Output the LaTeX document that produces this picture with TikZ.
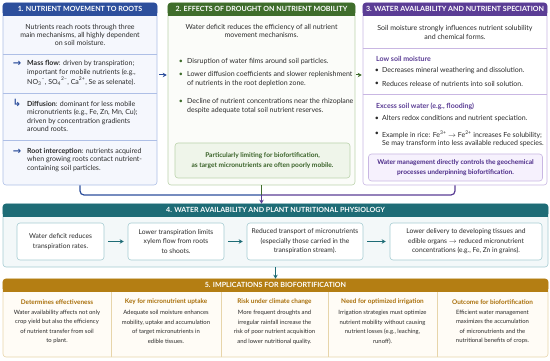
\documentclass[tikz,border=0pt]{standalone}
\usepackage{fontspec}
\setmainfont{Lato}
\newfontfamily\arrowfont{DejaVu Sans}
\usetikzlibrary{positioning,arrows.meta}

\definecolor{ink}{HTML}{2B2B2B}
\definecolor{blueh}{HTML}{2D4F9C}
\definecolor{blueb}{HTML}{AEBFE6}
\definecolor{bluef}{HTML}{F5F7FD}
\definecolor{greenh}{HTML}{3F6D2C}
\definecolor{greenb}{HTML}{BBD3AC}
\definecolor{greenf}{HTML}{FBFCF9}
\definecolor{greenbox}{HTML}{EFF5EA}
\definecolor{purph}{HTML}{5B3D95}
\definecolor{purpb}{HTML}{C9B7E3}
\definecolor{purpbox}{HTML}{F6F1FD}
\definecolor{purpt}{HTML}{4B2B88}
\definecolor{tealh}{HTML}{1E6C76}
\definecolor{tealb}{HTML}{A6CCD2}
\definecolor{tealf}{HTML}{F3F8F9}
\definecolor{goldh}{HTML}{B47E13}
\definecolor{goldb}{HTML}{E7D5AA}
\definecolor{goldf}{HTML}{FFFCF6}
\definecolor{goldt}{HTML}{A86E08}

\tikzset{
  panel/.style={rounded corners=3pt, line width=0.6pt, inner sep=0pt},
  headtext/.style={text=white, font=\fontsize{7.1}{8}\selectfont\bfseries, inner sep=0pt},
  txt/.style={text=ink, font=\fontsize{7}{8.3}\selectfont, inner sep=0pt, align=left},
  ctxt/.style={txt, align=center},
  bullet/.style={text=#1, font=\fontsize{7}{8}\selectfont, inner sep=0pt},
  icon/.style={text=blueh, font=\arrowfont\fontsize{10}{10}\selectfont\bfseries, inner sep=0pt},
  subhead/.style={text=purph, font=\fontsize{7}{8}\selectfont\bfseries, inner sep=0pt, anchor=west},
  note/.style={rounded corners=3pt, line width=0.6pt, align=center, inner sep=0pt,
    font=\fontsize{6.6}{9.5}\selectfont\bfseries},
  stepbox/.style={draw=tealb, fill=white, rounded corners=3pt, line width=0.6pt,
    minimum height=37pt, align=center, text=ink, font=\fontsize{6.7}{9.5}\selectfont, inner sep=0pt},
  sepline/.style={line width=0.5pt},
  flow/.style={line width=1pt, -{Stealth[length=4pt,width=4.5pt]}},
  link/.style={line width=1.2pt, rounded corners=4pt},
  ctitle/.style={text=goldt, font=\fontsize{6.4}{7}\selectfont\bfseries, inner sep=0pt},
  cbody/.style={text=ink, font=\fontsize{5.9}{9.6}\selectfont, align=center, inner sep=0pt}
}

\begin{document}
\begin{tikzpicture}[x=1pt, y=-1pt]
  \useasboundingbox (0,0) rectangle (550,361);

  % panels
  \node[panel, draw=blueb, fill=bluef, minimum width=154pt, minimum height=182pt] (p1) at (80,94) {};
  \node[panel, draw=greenb, fill=greenf, minimum width=187pt, minimum height=182pt] (p2) at (261.5,94) {};
  \node[panel, draw=purpb, fill=white, minimum width=184pt, minimum height=182pt] (p3) at (455,94) {};
  \node[panel, draw=tealb, fill=tealf, minimum width=545pt, minimum height=63pt] (s4) at (275.5,235.5) {};
  \node[panel, draw=goldb, fill=goldf, minimum width=545pt, minimum height=78pt] (s5) at (275.5,318) {};

  \foreach \p/\c in {p1/blueh, p2/greenh, p3/purph, s4/tealh, s5/goldh} {
    \fill[\c, rounded corners=3pt] (\p.north west) rectangle ([yshift=-13pt]\p.north east);
    \fill[\c] ([yshift=-7pt]\p.north west) rectangle ([yshift=-13pt]\p.north east);
  }

  \node[headtext] (h1) at ([yshift=-6.5pt]p1.north) {1. NUTRIENT MOVEMENT TO ROOTS};
  \node[headtext] (h2) at ([yshift=-6.5pt]p2.north) {2. EFFECTS OF DROUGHT ON NUTRIENT MOBILITY};
  \node[headtext] (h3) at ([yshift=-6.5pt]p3.north) {3. WATER AVAILABILITY AND NUTRIENT SPECIATION};
  \node[headtext] (h4) at ([yshift=-6.5pt]s4.north) {4. WATER AVAILABILITY AND PLANT NUTRITIONAL PHYSIOLOGY};
  \node[headtext] (h5) at ([yshift=-6.5pt]s5.north) {5. IMPLICATIONS FOR BIOFORTIFICATION};

  % panel 1
  \node[ctxt] (i1) at (80,35) {Nutrients reach roots through three\\main mechanisms, all highly dependent\\on soil moisture.};
  \draw[sepline, blueb] (p1.west |- 0,54) -- (p1.east |- 0,54);
  \node[icon] (a1) at (17,63.5) {→};
  \node[txt, anchor=west] (m1) at (27,73) {\textbf{Mass flow}: driven by transpiration;\\important for mobile nutrients (e.g.,\\[1.5pt]NO\textsubscript{3}\textsuperscript{--}, SO\textsubscript{4}\textsuperscript{2--}, Ca\textsuperscript{2+}, Se as selenate).};
  \draw[sepline, blueb] (p1.west |- 0,93) -- (p1.east |- 0,93);
  \node[icon] (a2) at (17,103) {↳};
  \node[txt, anchor=west] (m2) at (27,116.5) {\textbf{Diffusion}: dominant for less mobile\\micronutrients (e.g., Fe, Zn, Mn, Cu);\\driven by concentration gradients\\around roots.};
  \draw[sepline, blueb] (p1.west |- 0,140) -- (p1.east |- 0,140);
  \node[icon] (a3) at (17,152) {→};
  \node[txt, anchor=west] (m3) at (27,160) {\textbf{Root interception}: nutrients acquired\\when growing roots contact nutrient-\\containing soil particles.};

  % panel 2
  \node[ctxt] (i2) at (261.5,31) {Water deficit reduces the efficiency of all nutrient\\movement mechanisms.};
  \node[bullet=greenh] (u1) at (181,62) {\textbullet};
  \node[txt, anchor=west] (d1) at (187,62) {Disruption of water films around soil particles.};
  \node[bullet=greenh] (u2) at (181,75) {\textbullet};
  \node[txt, anchor=west] (d2) at (187,79) {Lower diffusion coefficients and slower replenishment\\of nutrients in the root depletion zone.};
  \node[bullet=greenh] (u3) at (181,102) {\textbullet};
  \node[txt, anchor=west] (d3) at (187,106) {Decline of nutrient concentrations near the rhizoplane\\despite adequate total soil nutrient reserves.};
  \node[note, draw=greenb, fill=greenbox, text=greenh!90!black, minimum width=175pt, minimum height=35pt] (k2) at (262.5,160.5) {Particularly limiting for biofortification,\\as target micronutrients are often poorly mobile.};

  % panel 3
  \node[ctxt] (i3) at (455,32.5) {Soil moisture strongly influences nutrient solubility\\and chemical forms.};
  \draw[sepline, purpb] (p3.west |- 0,48) -- (p3.east |- 0,48);
  \node[subhead] (l3) at (376,59) {Low soil moisture};
  \node[bullet=ink] (u4) at (377,71) {\textbullet};
  \node[txt, anchor=west] (d4) at (382,71) {Decreases mineral weathering and dissolution.};
  \node[bullet=ink] (u5) at (377,84) {\textbullet};
  \node[txt, anchor=west] (d5) at (382,84) {Reduces release of nutrients into soil solution.};
  \draw[sepline, purpb] (p3.west |- 0,94) -- (p3.east |- 0,94);
  \node[subhead] (e3) at (376,106) {Excess soil water (e.g., flooding)};
  \node[bullet=ink] (u6) at (377,119) {\textbullet};
  \node[txt, anchor=west] (d6) at (382,119) {Alters redox conditions and nutrient speciation.};
  \node[bullet=ink] (u7) at (377,134) {\textbullet};
  \node[txt, anchor=west] (d7) at (382,138.5) {Example in rice: Fe\textsuperscript{3+} $\rightarrow$ Fe\textsuperscript{2+} increases Fe solubility;\\Se may transform into less available reduced species.};
  \node[note, draw=purpb, fill=purpbox, text=purpt, minimum width=174pt, minimum height=27pt] (k3) at (455.5,167.5) {Water management directly controls the geochemical\\processes underpinning biofortification.};

  % panel links
  \draw[flow, blueh, shorten <=2pt, shorten >=1pt] (p1.east |- 0,75) -- (p2.west |- 0,75);
  \draw[flow, greenh, shorten <=1pt, shorten >=1pt] (p2.east |- 0,75) -- (p3.west |- 0,75);
  \coordinate (join) at (p2.south |- 0,195);
  \draw[link, blueh] (p1.south) |- (join);
  \draw[link, purph] (p3.south) |- (join);
  \draw[link, greenh] (p2.south) -- (join);
  \draw[flow, purph] (join) -- (join |- s4.north);

  % section 4
  \node[stepbox, minimum width=87pt] (b1) at (60.5,241.5) {Water deficit reduces\\transpiration rates.};
  \node[stepbox, minimum width=96pt] (b2) at (176,241.5) {Lower transpiration limits\\xylem flow from roots\\to shoots.};
  \node[stepbox, minimum width=116pt] (b3) at (305,241.5) {Reduced transport of micronutrients\\(especially those carried in the\\transpiration stream).};
  \node[stepbox, minimum width=152pt] (b4) at (466,241.5) {Lower delivery to developing tissues and\\edible organs $\rightarrow$ reduced micronutrient\\concentrations (e.g., Fe, Zn in grains).};
  \draw[flow, tealh, shorten <=4pt, shorten >=4pt] (b1) -- (b2);
  \draw[flow, tealh, shorten <=4pt, shorten >=4pt] (b2) -- (b3);
  \draw[flow, tealh, shorten <=4pt, shorten >=4pt] (b3) -- (b4);
  \draw[flow, tealh] (s4.south) -- (s5.north);

  % section 5
  \foreach \x in {111,221,328,437}
    \draw[sepline, goldb] (\x,292) -- (\x,357);
  \node[ctitle] (t1) at (57,302) {Determines effectiveness};
  \node[cbody, below=5pt of t1] (c1) {Water availability affects not only\\crop yield but also the efficiency\\of nutrient transfer from soil\\to plant.};
  \node[ctitle] (t2) at (166,302) {Key for micronutrient uptake};
  \node[cbody, below=5pt of t2] (c2) {Adequate soil moisture enhances\\mobility, uptake and accumulation\\of target micronutrients in\\edible tissues.};
  \node[ctitle] (t3) at (274.5,302) {Risk under climate change};
  \node[cbody, below=5pt of t3] (c3) {More frequent droughts and\\irregular rainfall increase the\\risk of poor nutrient acquisition\\and lower nutritional quality.};
  \node[ctitle] (t4) at (382.5,302) {Need for optimized irrigation};
  \node[cbody, below=5pt of t4] (c4) {Irrigation strategies must optimize\\nutrient mobility without causing\\nutrient losses (e.g., leaching,\\runoff).};
  \node[ctitle] (t5) at (492.5,302) {Outcome for biofortification};
  \node[cbody, below=5pt of t5] (c5) {Efficient water management\\maximizes the accumulation\\of micronutrients and the\\nutritional benefits of crops.};
\end{tikzpicture}
\end{document}
